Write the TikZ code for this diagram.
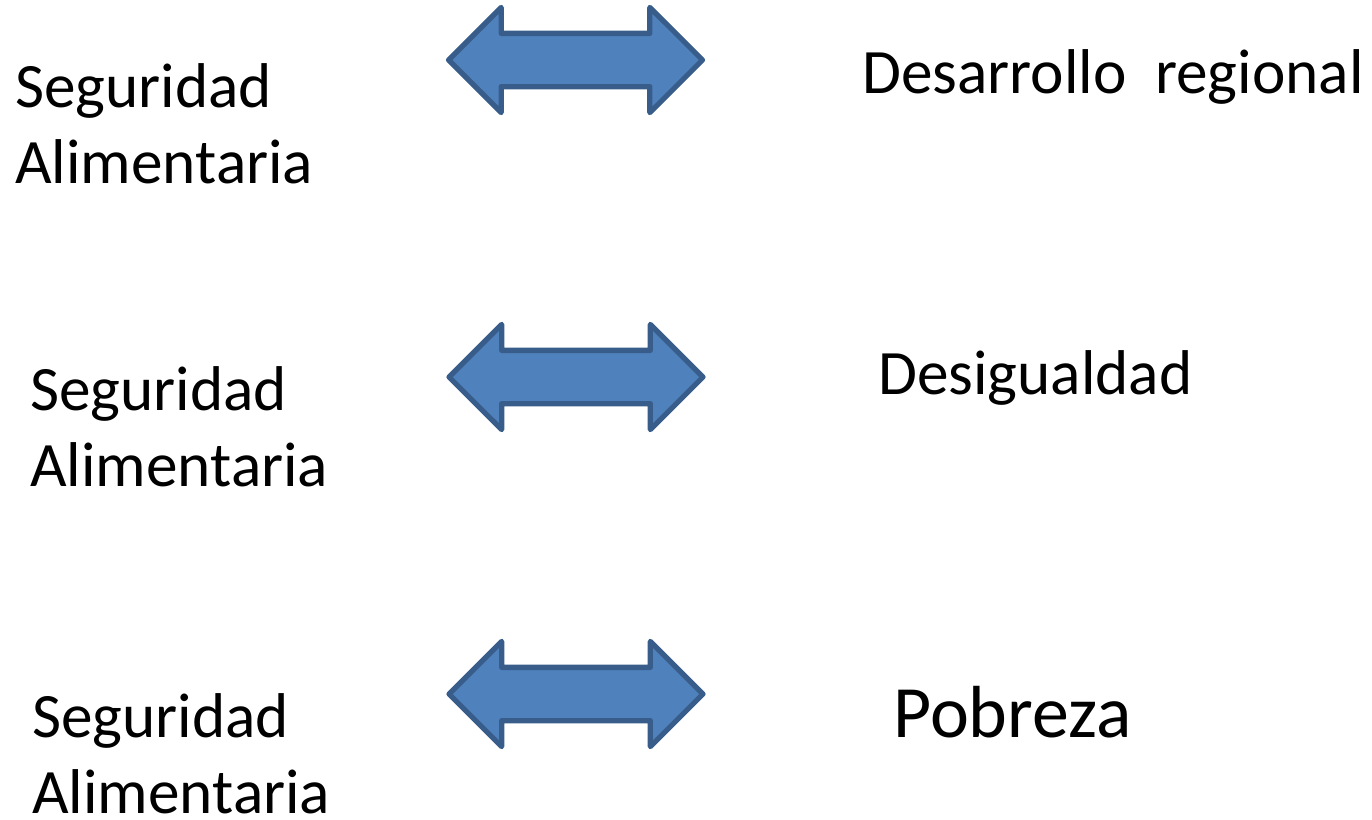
\documentclass[tikz,border=0pt]{standalone}
\usepackage{fontspec}
\setmainfont{Carlito}
\usepackage{tikz}
\usetikzlibrary{positioning,shapes.arrows}
\definecolor{arrowfill}{RGB}{79,129,189}
\definecolor{arrowline}{RGB}{56,93,138}

\begin{document}
\begin{tikzpicture}[x=0.02cm,y=-0.02cm,
		linkarrow/.style={double arrow,draw=arrowline,fill=arrowfill,line width=3pt,line join=round,
			inner xsep=0pt,inner ysep=0.48cm,minimum height=5.08cm,double arrow head extend=0.52cm,
			double arrow tip angle=90},
		sa/.style={anchor=base west,align=left,inner sep=0pt,font=\fontsize{36}{43}\selectfont},
		topic/.style={anchor=base west,inner sep=0pt,font=\fontsize{36}{43}\selectfont}]
		\useasboundingbox (0,0) rectangle (1372,819);
		
		\node[sa] (SA1) at (15,183) {Seguridad\\Alimentaria};
		\node[sa] (SA2) at (30,486) {Seguridad\\Alimentaria};
		\node[sa] (SA3) at (32,813) {Seguridad\\Alimentaria};
		
		\node[linkarrow] (L1) at (575.5,60) {};
		\node[linkarrow] (L2) at (576,377) {};
		\node[linkarrow] (L3) at (576,694) {};
		
		\node[topic] (D1) at (862,93) {Desarrollo\ \ regional};
		\node[topic] (D2) at (878,394) {Desigualdad};
		\node[topic,font=\fontsize{42}{50}\selectfont] (D3) at (893,737) {Pobreza};
		
\end{tikzpicture}
\end{document}
